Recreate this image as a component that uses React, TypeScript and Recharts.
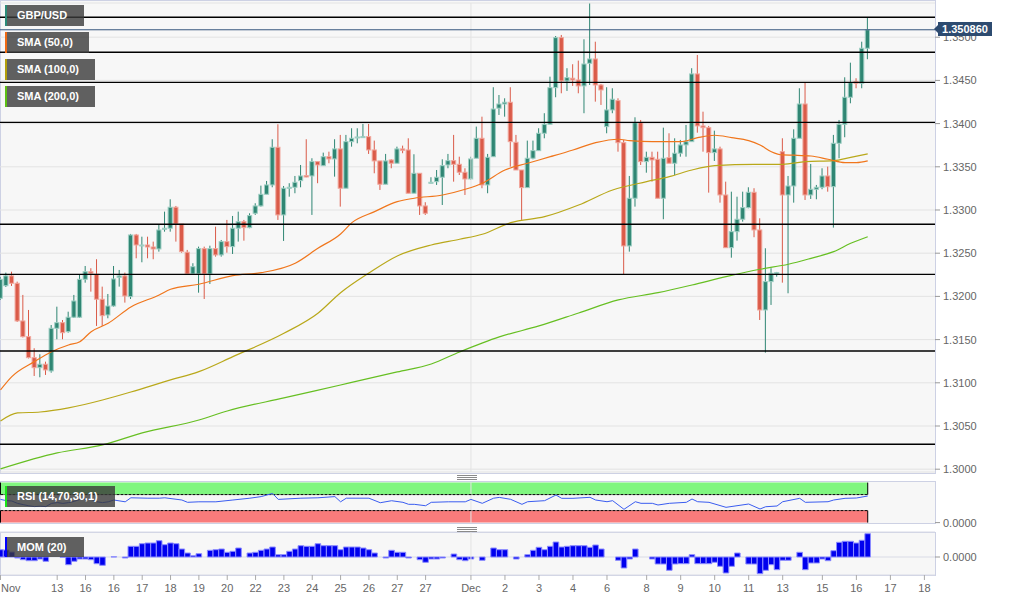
import React from 'react';
import { ComposedChart, Bar, Line, XAxis, YAxis, CartesianGrid, ReferenceLine, ReferenceArea } from 'recharts';

const FONT = '"Liberation Sans", Arial, sans-serif';

const openP = [
  1.31978, 1.32124, 1.32237, 1.32152, 1.31716, 1.31534, 1.31291, 1.31175, 1.31215, 1.31137,
  1.31631, 1.31696, 1.31592, 1.31759, 1.31759, 1.32198, 1.32286, 1.32256, 1.31967, 1.31785,
  1.31889, 1.32221, 1.32237, 1.31997, 1.32711, 1.32587, 1.32595, 1.32572, 1.32549, 1.32777,
  1.32789, 1.33032, 1.32838, 1.32511, 1.32260, 1.32260, 1.32553, 1.32260, 1.32553, 1.32480,
  1.32634, 1.32576, 1.32789, 1.32865, 1.32796, 1.32962, 1.33047, 1.33182, 1.33290, 1.33726,
  1.32943, 1.33255, 1.33263, 1.33340, 1.33398, 1.33394, 1.33560, 1.33513, 1.33617, 1.33591,
  1.33707, 1.33252, 1.33791, 1.33837, 1.33845, 1.33849, 1.33695, 1.33568, 1.33298, 1.33579,
  1.33541, 1.33707, 1.33695, 1.33194, 1.33425, 1.33047, 1.33316, 1.33328, 1.33379, 1.33521,
  1.33571, 1.33529, 1.33437, 1.33359, 1.33599, 1.33830, 1.33290, 1.33617, 1.34178, 1.34227,
  1.34247, 1.33784, 1.33463, 1.33259, 1.33599, 1.33687, 1.33888, 1.33992, 1.34416, 1.34995,
  1.34494, 1.34525, 1.34505, 1.34436, 1.34698, 1.34748, 1.34447, 1.33965, 1.34158, 1.34266,
  1.33779, 1.32584, 1.33136, 1.34011, 1.33560, 1.33610, 1.33587, 1.33136, 1.33606, 1.33541,
  1.33657, 1.33753, 1.33791, 1.34575, 1.33973, 1.33953, 1.33664, 1.33707, 1.33174, 1.32564,
  1.32749, 1.32893, 1.33027, 1.33205, 1.32769, 1.31843, 1.32171, 1.32260, 1.33675, 1.33174,
  1.33278, 1.33830, 1.34227, 1.33174, 1.33240, 1.33263, 1.33394, 1.33270, 1.33772, 1.33992,
  1.34305, 1.34485, 1.34467, 1.34872,
];

const highP = [
  1.32225, 1.32275, 1.32286, 1.32171, 1.32017, 1.31843, 1.31400, 1.31330, 1.31245, 1.31669,
  1.31881, 1.31727, 1.31823, 1.32017, 1.32248, 1.32352, 1.32326, 1.32430, 1.32113, 1.32028,
  1.32352, 1.32306, 1.32275, 1.32723, 1.32723, 1.32691, 1.32691, 1.32634, 1.32827, 1.32981,
  1.33124, 1.33047, 1.32838, 1.32538, 1.32384, 1.32576, 1.32576, 1.32587, 1.32807, 1.32653,
  1.32885, 1.32931, 1.32981, 1.32885, 1.32962, 1.33078, 1.33282, 1.33336, 1.33819, 1.33992,
  1.33278, 1.33310, 1.33394, 1.33521, 1.33819, 1.33599, 1.33560, 1.33664, 1.33675, 1.33819,
  1.33869, 1.33869, 1.33946, 1.33946, 1.33996, 1.33996, 1.33803, 1.33568, 1.33649, 1.33587,
  1.33733, 1.33745, 1.33830, 1.33645, 1.33425, 1.33090, 1.33379, 1.33463, 1.33587, 1.33649,
  1.33869, 1.33617, 1.33483, 1.33617, 1.33965, 1.34080, 1.33649, 1.34421, 1.34331, 1.34293,
  1.34421, 1.33869, 1.33463, 1.33803, 1.33803, 1.33946, 1.34120, 1.34543, 1.35014, 1.35026,
  1.34641, 1.34687, 1.34729, 1.34976, 1.35390, 1.34948, 1.34459, 1.34421, 1.34409, 1.34293,
  1.33811, 1.33394, 1.34073, 1.34042, 1.33675, 1.33675, 1.33675, 1.33953, 1.33888, 1.33830,
  1.33811, 1.33984, 1.34641, 1.34794, 1.34138, 1.33973, 1.33918, 1.33733, 1.33328, 1.33212,
  1.33154, 1.33212, 1.33263, 1.33252, 1.32904, 1.32557, 1.32326, 1.32283, 1.33830, 1.33394,
  1.33934, 1.34409, 1.34474, 1.33533, 1.33290, 1.33483, 1.33502, 1.33869, 1.34042, 1.34536,
  1.34705, 1.34525, 1.34948, 1.35226,
];

const lowP = [
  1.31959, 1.32109, 1.32121, 1.31704, 1.31525, 1.31282, 1.31079, 1.31064, 1.31091, 1.31117,
  1.31504, 1.31504, 1.31580, 1.31750, 1.31750, 1.32159, 1.32055, 1.31658, 1.31658, 1.31747,
  1.31881, 1.32113, 1.31928, 1.31970, 1.32441, 1.32395, 1.32441, 1.32430, 1.32518, 1.32749,
  1.32749, 1.32634, 1.32506, 1.32248, 1.32248, 1.32043, 1.31970, 1.32144, 1.32460, 1.32460,
  1.32506, 1.32491, 1.32634, 1.32645, 1.32789, 1.32943, 1.33039, 1.33182, 1.33263, 1.32885,
  1.32642, 1.33154, 1.33194, 1.33263, 1.33379, 1.32943, 1.33310, 1.33510, 1.33541, 1.33386,
  1.33039, 1.33252, 1.33733, 1.33772, 1.33842, 1.33649, 1.33425, 1.33232, 1.33298, 1.33483,
  1.33541, 1.33657, 1.33194, 1.33194, 1.32943, 1.32943, 1.33310, 1.33290, 1.33058, 1.33483,
  1.33328, 1.33405, 1.33174, 1.33348, 1.33599, 1.33252, 1.33194, 1.33617, 1.34100, 1.34080,
  1.33502, 1.33463, 1.32885, 1.33259, 1.33587, 1.33687, 1.33830, 1.33992, 1.34305, 1.34351,
  1.34378, 1.34436, 1.34351, 1.34120, 1.34447, 1.34254, 1.34216, 1.33888, 1.34120, 1.33675,
  1.32248, 1.32518, 1.33039, 1.33521, 1.33432, 1.33328, 1.33136, 1.32893, 1.33541, 1.33405,
  1.33617, 1.33617, 1.33791, 1.33895, 1.33675, 1.33201, 1.33568, 1.33085, 1.32564, 1.32448,
  1.32645, 1.32865, 1.33020, 1.32685, 1.31727, 1.31349, 1.31901, 1.32228, 1.32159, 1.32036,
  1.33085, 1.33830, 1.33116, 1.33128, 1.33124, 1.33240, 1.33212, 1.32796, 1.33599, 1.33842,
  1.34235, 1.34409, 1.34409, 1.34745,
];

const closeP = [
  1.32198, 1.32237, 1.32152, 1.31716, 1.31534, 1.31291, 1.31175, 1.31215, 1.31149, 1.31631,
  1.31696, 1.31580, 1.31759, 1.31947, 1.32198, 1.32286, 1.32268, 1.31967, 1.31777, 1.31889,
  1.32202, 1.32237, 1.32005, 1.32711, 1.32595, 1.32595, 1.32572, 1.32549, 1.32769, 1.32789,
  1.33032, 1.32838, 1.32518, 1.32260, 1.32344, 1.32553, 1.32260, 1.32553, 1.32480, 1.32634,
  1.32576, 1.32789, 1.32865, 1.32796, 1.32935, 1.33047, 1.33182, 1.33290, 1.33726, 1.32943,
  1.33252, 1.33263, 1.33321, 1.33394, 1.33382, 1.33560, 1.33521, 1.33617, 1.33591, 1.33707,
  1.33252, 1.33791, 1.33830, 1.33845, 1.33849, 1.33695, 1.33568, 1.33298, 1.33568, 1.33541,
  1.33707, 1.33691, 1.33194, 1.33425, 1.33047, 1.32962, 1.33321, 1.33379, 1.33513, 1.33571,
  1.33529, 1.33437, 1.33359, 1.33591, 1.33830, 1.33290, 1.33610, 1.34169, 1.34227, 1.34247,
  1.33791, 1.33463, 1.33259, 1.33599, 1.33687, 1.33888, 1.33992, 1.34416, 1.34995, 1.34494,
  1.34532, 1.34505, 1.34436, 1.34690, 1.34748, 1.34447, 1.34389, 1.34158, 1.34282, 1.33779,
  1.32584, 1.33136, 1.34011, 1.33560, 1.33610, 1.33579, 1.33136, 1.33599, 1.33541, 1.33657,
  1.33753, 1.33791, 1.34575, 1.33973, 1.33953, 1.33664, 1.33707, 1.33174, 1.32564, 1.32749,
  1.32893, 1.33027, 1.33205, 1.32769, 1.31843, 1.32171, 1.32268, 1.32275, 1.33174, 1.33278,
  1.33830, 1.34227, 1.33174, 1.33240, 1.33263, 1.33394, 1.33270, 1.33772, 1.33992, 1.34305,
  1.34474, 1.34467, 1.34872, 1.35086,
];

const momVals = [
  0.0073, 0.007, 0.005, -0.001, -0.0027, -0.0037, -0.0037, -0.002, -0.0043, 0,
  0, -0.0003, -0.0077, -0.0043, -0.002, -0.002, -0.0027, -0.0067, -0.0083, 0,
  0.0002, 0, -0.001, 0.0107, 0.0107, 0.0133, 0.014, 0.014, 0.0163, 0.0123,
  0.014, 0.0133, 0.008, 0.004, 0.0013, 0.0033, 0, 0.0067, 0.0073, 0.008,
  0.0047, 0.0057, 0.009, 0, 0.004, 0.0047, 0.0067, 0.008, 0.01, 0.0023,
  0.0023, 0.0057, 0.008, 0.0113, 0.0107, 0.0107, 0.0133, 0.0113, 0.0113, 0.0113,
  0.0073, 0.01, 0.01, 0.01, 0.009, 0.0073, 0.004, 0, -0.001, 0.0067,
  0.0047, 0.0047, -0.001, 0, -0.0027, -0.0053, -0.002, -0.002, -0.001, 0,
  0.003, -0.0027, -0.0037, -0.002, 0, -0.0033, 0, 0.009, 0.0073, 0.0073,
  0, -0.002, 0, 0.0023, 0.0067, 0.0097, 0.0073, 0.0107, 0.015, 0.01,
  0.0107, 0.0113, 0.0113, 0.0113, 0.0097, 0.012, 0.008, 0, 0, -0.0033,
  -0.011, -0.002, 0.008, 0, 0, -0.002, -0.007, -0.007, -0.0133, -0.007,
  -0.0067, -0.0067, 0.0023, -0.0067, -0.0067, -0.0067, -0.0053, -0.0093, -0.016, -0.0093,
  0.004, 0, -0.007, -0.007, -0.0167, -0.0133, -0.0077, -0.0127, -0.0033, -0.0033,
  0, 0.0047, -0.0127, -0.006, -0.006, -0.002, -0.0037, 0.0063, 0.0147, 0.0157,
  0.0157, 0.014, 0.0167, 0.0233,
];

const rsiPoints: [number, number][] = [
  [0, 58], [1, 55], [2, 54], [3, 48], [4, 45], [5, 42], [6, 40], [7, 41], [8, 40], [9, 48],
  [10, 50], [11, 48], [12, 50], [13, 53], [14, 58], [15, 59], [16, 58], [17, 52], [18, 50], [19, 52],
  [20, 56.5], [22, 52], [23, 62], [26, 61], [28, 61], [29, 62], [32, 56.5], [33, 50.7], [35, 52], [38, 52],
  [41, 56.5], [44, 61], [46, 65], [47, 69], [48, 73], [49, 58], [53, 61], [56, 62], [59, 65], [60, 52],
  [61, 61], [65, 61], [67, 49.7], [69, 54.7], [71, 50.7], [72, 45.7], [73, 45.7], [75, 42.2], [76, 50.7], [79, 52],
  [82, 52], [83, 58], [85, 48.2], [87, 61], [88, 63], [90, 58.2], [92, 45.7], [93, 52.2], [96, 54.8], [98, 69],
  [99, 60.7], [101, 60.7], [104, 63.2], [105, 56.5], [107, 52.2], [108, 54.8], [110, 33.2], [112, 52.2], [113, 48.2], [115, 48.2],
  [116, 44], [118, 48.2], [121, 50.7], [122, 59], [123, 52.2], [125, 50.7], [128, 38.2], [132, 46.5], [134, 34], [135, 39.7],
  [137, 41.5], [138, 52.2], [141, 60.7], [142, 50.7], [146, 52.2], [147, 56.5], [149, 60.7], [151, 61.5], [153, 66.5],
];

const sma50Points: [number, number][] = [
  [0, 1.30917], [2, 1.31071], [6, 1.31245], [9, 1.3136], [12, 1.31438], [14, 1.31476], [16, 1.31592], [19, 1.31689],
  [23, 1.31878], [28, 1.32017], [30, 1.32083], [35, 1.32141], [41, 1.3224], [46, 1.32275], [52, 1.32384], [56, 1.32557],
  [60, 1.32723], [62, 1.32854], [66, 1.32981], [70, 1.33097], [73, 1.33136], [78, 1.33174], [82, 1.3324], [85, 1.3331],
  [89, 1.33463], [93, 1.33541], [97, 1.33617], [101, 1.33695], [105, 1.33779], [109, 1.33819], [111, 1.33803], [115, 1.33791],
  [120, 1.33791], [123, 1.33837], [126, 1.33865], [129, 1.33837], [132, 1.33803], [134, 1.33753], [136, 1.33675], [138, 1.33637],
  [140, 1.33634], [143, 1.33625], [146, 1.33587], [149, 1.33548], [151, 1.33548], [153, 1.33568],
];

const sma100Points: [number, number][] = [
  [0, 1.30558], [3, 1.30651], [7, 1.30662], [12, 1.30709], [18, 1.30801], [23, 1.30894], [30, 1.31033], [35, 1.31129],
  [41, 1.31303], [50, 1.31573], [56, 1.31805], [60, 1.32043], [65, 1.32271], [70, 1.32468], [76, 1.32595], [81, 1.32661],
  [85, 1.32719], [90, 1.32854], [96, 1.32923], [102, 1.33058], [108, 1.33232], [114, 1.33328], [118, 1.33386], [122, 1.33463],
  [126, 1.33513], [133, 1.33529], [138, 1.33529], [142, 1.3356], [147, 1.33571], [150, 1.3361], [153, 1.33649],
];

const sma200Points: [number, number][] = [
  [0, 1.30003], [10, 1.30188], [18, 1.30281], [25, 1.3042], [35, 1.3057], [40, 1.30674], [50, 1.30825], [60, 1.30975],
  [70, 1.31126], [76, 1.31218], [81, 1.31357], [88, 1.31531], [95, 1.31658], [102, 1.31808], [109, 1.31959], [116, 1.32043],
  [122, 1.32132], [128, 1.32228], [134, 1.32314], [139, 1.32372], [143, 1.32441], [147, 1.32518], [150, 1.32615], [153, 1.32691],
];

const levelLines = [1.35231, 1.34826, 1.34478, 1.34015, 1.32835, 1.32256, 1.31368, 1.30289];
const lastPrice = 1.35086;
const priceTicks = [1.3, 1.305, 1.31, 1.315, 1.32, 1.325, 1.33, 1.335, 1.34, 1.345, 1.35];
const tickIdx = [0, 10, 15, 20, 25, 30, 35, 40, 45, 50, 55, 60, 65, 70, 75, 83, 89, 95, 101, 107, 114, 120, 126, 132, 138, 145, 151, 157, 163];
const tickLabels = ['Nov', '13', '16', '16', '17', '18', '19', '20', '22', '23', '24', '25', '26', '27', '27', 'Dec', '2', '3', '4', '6', '8', '9', '10', '11', '13', '15', '16', '17', '18'];
const decIndex = 83;
const lastIndex = 153;

const X_DOMAIN: [number, number] = [-0.088, 164.87];

type Row = {
  i: number; open: number; high: number; low: number; close: number; range: [number, number];
  mom: number; rsi: number | null; sma50: number | null; sma100: number | null; sma200: number | null;
};

const rows: Row[] = openP.map((o, i) => ({
  i, open: o, high: highP[i], low: lowP[i], close: closeP[i], range: [lowP[i], highP[i]],
  mom: momVals[i], rsi: null, sma50: null, sma100: null, sma200: null,
}));
rsiPoints.forEach(([i, v]) => { rows[i].rsi = v; });
sma50Points.forEach(([i, v]) => { rows[i].sma50 = v; });
sma100Points.forEach(([i, v]) => { rows[i].sma100 = v; });
sma200Points.forEach(([i, v]) => { rows[i].sma200 = v; });

const Candle = (props: any) => {
  const { x, y, width, height, payload } = props;
  if (!payload || x == null || y == null) return null;
  const { open, close, high, low } = payload;
  const top = Math.min(y, y + height);
  const h = Math.abs(height);
  const k = high - low > 0 ? h / (high - low) : 0;
  const py = (v: number) => top + (high - v) * k;
  const cx = x + width / 2;
  const up = close >= open;
  const color = up ? '#2f8673' : '#da5b49';
  const edge = up ? '#9fcfc4' : '#f1a79d';
  const yo = py(open);
  const yc = py(close);
  const bt = Math.min(yo, yc);
  const bh = Math.max(Math.abs(yo - yc), 1);
  return (
    <g>
      <line x1={cx} x2={cx} y1={top} y2={top + h} stroke={color} strokeWidth={1} />
      <rect x={cx - 2.1} y={bt} width={4.2} height={bh} fill={color} stroke={edge} strokeWidth={1} />
    </g>
  );
};

const yTick = { fill: '#666', fontSize: 11, fontFamily: FONT };

const XTick = (props: any) => {
  const { x, y, payload } = props;
  const idx = tickIdx.indexOf(payload.value);
  const label = idx >= 0 ? tickLabels[idx] : '';
  return (
    <text x={payload.value === 0 ? x + 0.5 : x} y={y} dy="0.71em" textAnchor={payload.value === 0 ? 'start' : 'middle'}
      fill="#666" fontSize={11} fontFamily={FONT}>{label}</text>
  );
};

const LegendBox = ({ left, top, w, h, strip, text }: any) => (
  <div style={{
    position: 'absolute', left, top, width: w, height: h, background: 'rgba(58,58,58,0.8)',
    boxSizing: 'border-box', borderLeft: `2px solid ${strip}`, color: '#fff', fontFamily: FONT,
    fontWeight: 'bold', fontSize: 11, lineHeight: `${h}px`, paddingLeft: 10, whiteSpace: 'nowrap',
  }}>{text}</div>
);

const Handle = ({ top }: any) => (
  <div style={{ position: 'absolute', left: 457, top, width: 20 }}>
    {[0, 1.8, 3.6].map((d) => (
      <div key={d} style={{ position: 'absolute', left: 0, top: d, width: 20, height: 1, background: '#8a8a8a' }} />
    ))}
  </div>
);

const panelBg = (top: number, height: number) => (
  <div style={{
    position: 'absolute', left: 0, top, width: 936, height, boxSizing: 'border-box',
    border: '1px solid #cdd1e4', background: '#f7f7f7',
  }} />
);

export default function App() {
  return (
    <div style={{ position: 'absolute', left: 0, top: 0, width: 1012, height: 601, background: '#fff', overflow: 'hidden' }}>
      {panelBg(0, 474)}
      {panelBg(481, 43)}
      {panelBg(532, 44)}

      <div style={{ position: 'absolute', left: 0, top: 0 }}>
        <ComposedChart width={1012} height={478} data={rows} margin={{ top: 3, right: 0, bottom: 6, left: 0 }}>
          <CartesianGrid vertical={false} stroke="#e3e3e3" />
          <XAxis type="number" dataKey="i" domain={X_DOMAIN} hide allowDataOverflow />
          <YAxis orientation="right" width={77} domain={[1.299676, 1.353958]} ticks={priceTicks} allowDataOverflow
            axisLine={false} tickSize={5} tickMargin={3} tickLine={{ stroke: '#999' }} tick={yTick}
            tickFormatter={(v: number) => v.toFixed(4)} interval={0} />
          <ReferenceLine x={decIndex} stroke="#e3e3e3" />
          <Bar dataKey="range" barSize={5} shape={Candle} isAnimationActive={false} />
          <Line dataKey="sma200" stroke="#66bf22" strokeWidth={1.2} dot={false} connectNulls type="monotone" isAnimationActive={false} />
          <Line dataKey="sma100" stroke="#b9a81a" strokeWidth={1.2} dot={false} connectNulls type="monotone" isAnimationActive={false} />
          <Line dataKey="sma50" stroke="#f0761c" strokeWidth={1.2} dot={false} connectNulls type="monotone" isAnimationActive={false} />
          {levelLines.map((v) => (
            <ReferenceLine key={v} y={v} stroke="#000" strokeWidth={1.3} />
          ))}
          <ReferenceLine y={lastPrice} stroke="#34557c" strokeWidth={1} />
        </ComposedChart>
      </div>

      <div style={{ position: 'absolute', left: 0, top: 480 }}>
        <ComposedChart width={1012} height={50} data={rows} margin={{ top: 2, right: 0, bottom: 7, left: 0 }}>
          <XAxis type="number" dataKey="i" domain={X_DOMAIN} hide allowDataOverflow />
          <YAxis orientation="right" width={77} domain={[-1, 101.5]} ticks={[0]} allowDataOverflow
            axisLine={false} tickSize={5} tickMargin={3} tickLine={{ stroke: '#999' }} tick={yTick}
            tickFormatter={() => '0.0000'} />
          <ReferenceLine x={decIndex} stroke="#e3e3e3" />
          <ReferenceArea x1={0} x2={lastIndex} y1={70} y2={100} fill="#80f67f" fillOpacity={1} stroke="none" />
          <ReferenceArea x1={0} x2={lastIndex} y1={0} y2={30} fill="#f97b7b" fillOpacity={1} stroke="none" />
          <ReferenceLine segment={[{ x: 0, y: 70 }, { x: lastIndex, y: 70 }]} stroke="#000" strokeDasharray="3 1" />
          <ReferenceLine segment={[{ x: 0, y: 30 }, { x: lastIndex, y: 30 }]} stroke="#000" strokeDasharray="3 1" />
          <ReferenceLine segment={[{ x: lastIndex, y: 70 }, { x: lastIndex, y: 100 }]} stroke="#000" />
          <ReferenceLine segment={[{ x: lastIndex, y: 0 }, { x: lastIndex, y: 30 }]} stroke="#000" />
          <ReferenceLine segment={[{ x: 0, y: 70 }, { x: 0, y: 100 }]} stroke="#000" />
          <ReferenceLine segment={[{ x: 0, y: 0 }, { x: 0, y: 30 }]} stroke="#000" />
          <Line dataKey="rsi" stroke="#3a5cf0" strokeWidth={1} dot={false} connectNulls type="linear" isAnimationActive={false} />
        </ComposedChart>
      </div>

      <div style={{ position: 'absolute', left: 0, top: 530 }}>
        <ComposedChart width={1012} height={71} data={rows} margin={{ top: 2, right: 0, bottom: 0, left: 0 }}>
          <CartesianGrid vertical={false} stroke="#d9dbe6" />
          <XAxis type="number" dataKey="i" domain={X_DOMAIN} allowDataOverflow ticks={tickIdx} interval={0}
            height={26} tickSize={5} tickMargin={4} axisLine={false} tickLine={{ stroke: '#aaa' }} tick={<XTick />} />
          <YAxis orientation="right" width={77} domain={[-0.018, 0.025]} ticks={[0]} allowDataOverflow
            axisLine={false} tickSize={5} tickMargin={3} tickLine={{ stroke: '#999' }} tick={yTick}
            tickFormatter={() => '0.0000'} />
          <ReferenceLine x={decIndex} stroke="#e3e3e3" />
          <Bar dataKey="mom" barSize={5.6} fill="#0000ee" stroke="#8c8cff" strokeWidth={1} isAnimationActive={false} />
        </ComposedChart>
      </div>

      <LegendBox left={5} top={5} w={79} h={21} strip="#2b8a78" text="GBP/USD" />
      <LegendBox left={5} top={32} w={84} h={21} strip="#f06a14" text="SMA (50,0)" />
      <LegendBox left={5} top={59} w={90} h={21} strip="#b29e0a" text="SMA (100,0)" />
      <LegendBox left={5} top={86} w={90} h={21} strip="#5cbf14" text="SMA (200,0)" />
      <LegendBox left={5} top={486} w={110} h={21} strip="#19e619" text="RSI (14,70,30,1)" />
      <LegendBox left={5} top={537} w={79} h={20} strip="#0000ff" text="MOM (20)" />

      <Handle top={475} />
      <Handle top={527} />

      <div style={{
        position: 'absolute', left: 934, top: 24, width: 0, height: 0,
        borderTop: '5px solid transparent', borderBottom: '5px solid transparent', borderRight: '5px solid #2d4b70',
      }} />
      <div style={{
        position: 'absolute', left: 938, top: 22, width: 54, height: 14, background: '#2d4b70', color: '#fff',
        fontFamily: FONT, fontWeight: 'bold', fontSize: 11, lineHeight: '14px', textAlign: 'center',
      }}>1.350860</div>
    </div>
  );
}
